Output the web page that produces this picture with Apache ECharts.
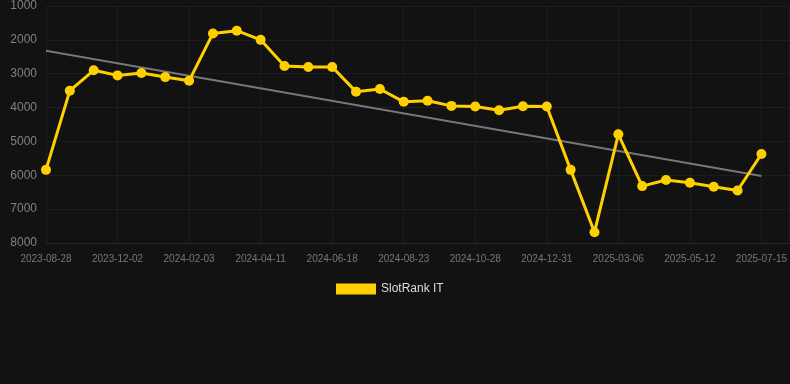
<!DOCTYPE html>
<html>
<head>
<meta charset="utf-8">
<script src="https://cdn.jsdelivr.net/npm/echarts@6/dist/echarts.min.js"></script>
<style>
html,body{margin:0;padding:0;background:#121212;}
#c{width:790px;height:384px;}
</style>
</head>
<body>
<div id="c"></div>
<script>
var dates = ['2023-08-28','2023-09-30','2023-11-01','2023-12-02','2023-12-23','2024-01-13','2024-02-03','2024-02-26','2024-03-19','2024-04-11','2024-05-04','2024-05-27','2024-06-18','2024-07-10','2024-08-01','2024-08-23','2024-09-14','2024-10-06','2024-10-28','2024-11-18','2024-12-09','2024-12-31','2025-01-21','2025-02-12','2025-03-06','2025-03-28','2025-04-19','2025-05-12','2025-06-02','2025-06-23','2025-07-15'];
var ranks = [5840,3500,2900,3050,2980,3100,3210,1810,1730,2000,2770,2800,2800,3530,3450,3830,3800,3950,3970,4080,3960,3970,5840,7680,4790,6320,6140,6220,6340,6450,5370];
var trendStart = 2320;
var trendEnd = 6020;
var yTicks = [1000,2000,3000,4000,5000,6000,7000,8000];

var chart = echarts.init(document.getElementById('c'));
var lineData = ranks.map(function(v,i){return [i,v];});
var trendData = [[0,trendStart],[dates.length-1,trendEnd]];
chart.setOption({
  backgroundColor:'#121212',
  animation:false,
  grid:{left:46,right:0,top:6,bottom:141},
  legend:{
    data:['SlotRank IT'],
    top:278,left:331,
    itemWidth:40,itemHeight:11,itemGap:8,
    textStyle:{color:'#dddddd',fontSize:12,fontFamily:'Arial, Liberation Sans, sans-serif'},
    icon:'rect'
  },
  xAxis:{
    type:'value',min:0,max:31.17,interval:3,
    axisLine:{show:true,lineStyle:{color:'#262626'}},
    axisTick:{show:false},
    splitLine:{show:true,lineStyle:{color:'#1d1d1d'}},
    axisLabel:{
      color:'#777777',fontSize:10,margin:11,
      fontFamily:'Arial, Liberation Sans, sans-serif',
      showMaxLabel:false,
      formatter:function(v){return (Number.isInteger(v) && dates[v]) ? dates[v] : '';}
    }
  },
  yAxis:{
    type:'value',inverse:true,min:yTicks[0],max:yTicks[yTicks.length-1],interval:1000,
    axisLine:{show:false},axisTick:{show:false},
    splitLine:{show:true,lineStyle:{color:'#1d1d1d'}},
    axisLabel:{color:'#808080',fontSize:12,margin:9,fontFamily:'Arial, Liberation Sans, sans-serif',
      formatter:function(v){return String(v);}}
  },
  series:[
    {
      name:'SlotRank IT',type:'line',data:lineData,
      symbol:'circle',symbolSize:10,
      lineStyle:{color:'#FFD000',width:3},
      itemStyle:{color:'#FFD000'},
      z:3
    },
    {
      name:'trend',type:'line',data:trendData,
      symbol:'none',
      lineStyle:{color:'#777777',width:2},
      z:2
    }
  ]
});
</script>
</body>
</html>
